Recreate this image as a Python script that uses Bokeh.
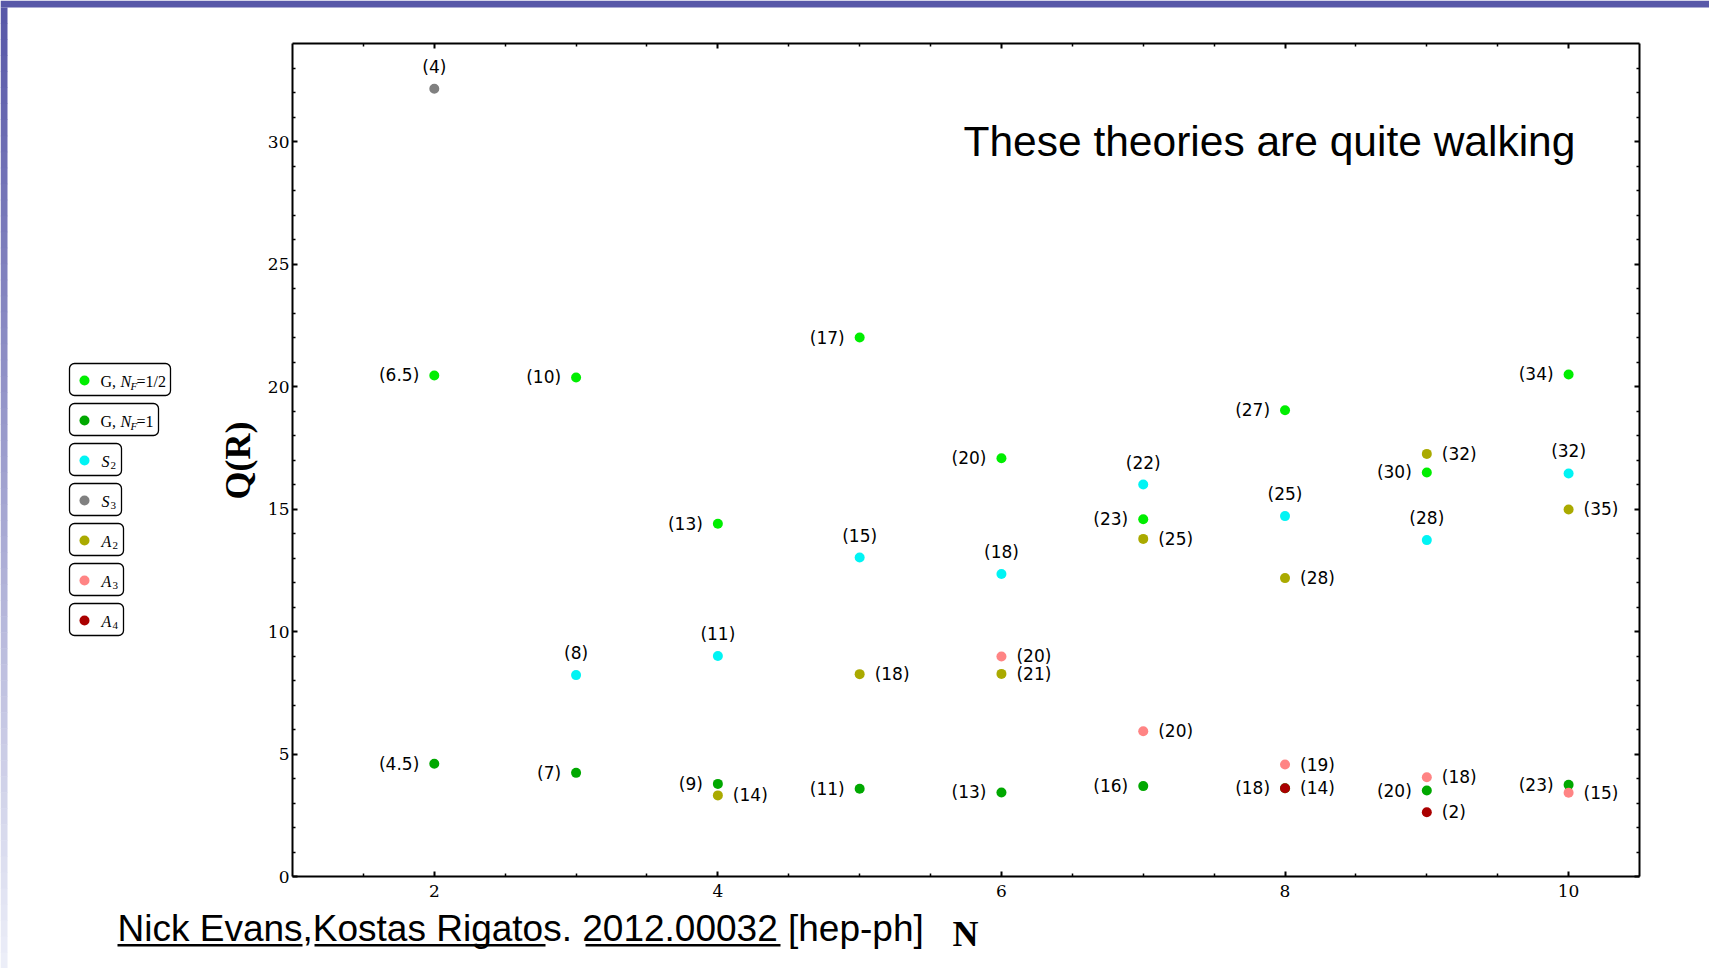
import math
from bokeh.plotting import figure
from bokeh.models import FixedTicker, LinearAxis, Range1d, Label, BoxAnnotation
from bokeh.core.properties import value
from bokeh.embed import file_html
from bokeh.resources import INLINE

# ---------------- data ----------------
g_half_N = [2, 3, 4, 5, 6, 7, 8, 9, 10]
g_half_Q = [20.45, 20.37, 14.40, 22.00, 17.07, 14.58, 19.03, 16.49, 20.49]
g_half_lab = ["(6.5)", "(10)", "(13)", "(17)", "(20)", "(23)", "(27)", "(30)", "(34)"]

g_one_N = [2, 3, 4, 5, 6, 7, 8, 9, 10]
g_one_Q = [4.60, 4.23, 3.78, 3.58, 3.43, 3.69, 3.60, 3.51, 3.74]
g_one_lab = ["(4.5)", "(7)", "(9)", "(11)", "(13)", "(16)", "(18)", "(20)", "(23)"]

s2_N = [3, 4, 5, 6, 7, 8, 9, 10]
s2_Q = [8.22, 9.00, 13.02, 12.35, 16.00, 14.71, 13.73, 16.45]
s2_lab = ["(8)", "(11)", "(15)", "(18)", "(22)", "(25)", "(28)", "(32)"]

s3_N = [2]
s3_Q = [32.15]
s3_lab = ["(4)"]

a2_N = [4, 5, 6, 7, 8, 9, 10]
a2_Q = [3.31, 8.26, 8.27, 13.78, 12.18, 17.25, 14.98]
a2_lab = ["(14)", "(18)", "(21)", "(25)", "(28)", "(32)", "(35)"]

a3_N = [6, 7, 8, 9, 10]
a3_Q = [8.98, 5.93, 4.57, 4.05, 3.42]
a3_lab = ["(20)", "(20)", "(19)", "(18)", "(15)"]

a4_N = [8, 9]
a4_Q = [3.60, 2.62]
a4_lab = ["(14)", "(2)"]

x_major = [2, 4, 6, 8, 10]
y_major = [0, 5, 10, 15, 20, 25, 30]

title_text = "These theories are quite walking"
cite_text = "Nick Evans,Kostas Rigatos. 2012.00032 [hep-ph]"

# ---------------- layout ----------------
W, H = 1709, 968
FL, FR, FT, FB = 292, 1639, 43, 876     # plot box in page pixels
XR = (1.0, 10.5)
YR = (0.0, 34.0)


def dx(px):
    return XR[0] + (px - FL) * (XR[1] - XR[0]) / (FR - FL)


def dy(py):
    return YR[0] + (FB - py) * (YR[1] - YR[0]) / (FB - FT)


# the frame covers the whole page; axes are pinned to the plot box
p = figure(width=W, height=H,
           x_range=Range1d(dx(0), dx(W)), y_range=Range1d(dy(H), dy(0)),
           output_backend="svg", toolbar_location=None,
           x_axis_location=None, y_axis_location=None,
           min_border=0)
p.title.visible = False
p.grid.visible = False
p.outline_line_color = None
p.background_fill_color = "white"
p.border_fill_color = "white"

x_minor = [k * 0.5 for k in range(3, 21) if (k * 0.5) not in x_major]
y_minor = [k for k in range(1, 34) if k % 5 != 0]


def make_axis(loc, bounds, ticker, labels=True):
    ax = LinearAxis(fixed_location=loc, bounds=bounds, ticker=ticker)
    ax.axis_line_width = 2
    ax.axis_line_color = "black"
    ax.major_tick_in = 5
    ax.major_tick_out = 0
    ax.minor_tick_in = 3
    ax.minor_tick_out = 0
    ax.major_tick_line_width = 2
    ax.minor_tick_line_width = 1.5
    ax.major_label_text_font = "DejaVu Serif"
    ax.major_label_text_font_size = "17px"
    ax.major_label_text_color = "black" if labels else None
    return ax


bottom_ax = make_axis(YR[0], XR, FixedTicker(ticks=x_major, minor_ticks=x_minor))
bottom_ax.major_label_standoff = 8
p.add_layout(bottom_ax, "below")
left_ax = make_axis(XR[0], YR, FixedTicker(ticks=y_major, minor_ticks=y_minor))
left_ax.major_label_standoff = 3
p.add_layout(left_ax, "left")
p.add_layout(make_axis(YR[1], XR, FixedTicker(ticks=x_major, minor_ticks=x_minor),
                       labels=False), "above")
p.add_layout(make_axis(XR[1], YR, FixedTicker(ticks=y_major, minor_ticks=y_minor),
                       labels=False), "right")

# ---------------- series ----------------
series = [
    (g_half_N, g_half_Q, g_half_lab, "#00ee00", "left"),
    (g_one_N, g_one_Q, g_one_lab, "#00a800", "left"),
    (s2_N, s2_Q, s2_lab, "#00f4f4", "above"),
    (s3_N, s3_Q, s3_lab, "#808080", "above"),
    (a2_N, a2_Q, a2_lab, "#aaaa00", "right"),
    (a3_N, a3_Q, a3_lab, "#ff8484", "right"),
    (a4_N, a4_Q, a4_lab, "#aa0000", "right"),
]

for xs, ys, labs, col, side in series:
    p.scatter(xs, ys, size=10, fill_color=col, line_color=None)

for xs, ys, labs, col, side in series:
    if side == "left":
        kw = dict(x_offset=-15, y_offset=0, text_align="right")
    elif side == "right":
        kw = dict(x_offset=15, y_offset=0, text_align="left")
    else:
        kw = dict(x_offset=0, y_offset=-22, text_align="center")
    p.text(xs, ys, text=labs, text_baseline="middle",
           text_font=value("DejaVu Sans"), text_font_size=value("17px"),
           text_color="black", **kw)

# ---------------- decorations ----------------
def box(l, r, t, b, fill, line=None, radius=0, lw=1.0):
    ba = BoxAnnotation(left=dx(l), right=dx(r), top=dy(t), bottom=dy(b),
                       fill_color=fill, fill_alpha=1.0,
                       line_color=line, line_width=lw, line_alpha=1.0,
                       border_radius=int(radius))
    p.add_layout(ba)
    return ba

# top bar and left gradient strip
box(0, W, 0, 7, "#5858a8")
n_bands = 60
c0 = (88, 88, 168)
c1 = (236, 238, 248)
for i in range(n_bands):
    t = i / (n_bands - 1)
    c = tuple(int(round(c0[k] + (c1[k] - c0[k]) * t)) for k in range(3))
    y0 = 7 + (H - 7) * i / n_bands
    y1 = 7 + (H - 7) * (i + 1) / n_bands + 0.5
    box(0, 7, y0, y1, "#%02x%02x%02x" % c)


def lab(px, py, text, font="Liberation Serif", size="16px", style="normal",
        align="left", color="black", angle=0.0):
    # py is the vertical middle of the text, in page pixels
    p.add_layout(Label(x=dx(px), y=dy(py), text=text, text_font=font,
                       text_font_size=size, text_font_style=style,
                       text_align=align, text_baseline="middle",
                       text_color=color, angle=angle))

# legend
legend_cols = [c for _, _, _, c, _ in series]
legend_right = [170, 158, 121, 121, 123, 123, 123]
for i, col in enumerate(legend_cols):
    top = 363 + 40 * i
    box(69, legend_right[i], top, top + 32, "white", line="black", radius=5, lw=1.3)
    box(79, 89, top + 12, top + 22, col, radius=5)
    mid = top + 18
    if i < 2:
        lab(100, mid, "G,")
        lab(120, mid, "N", style="italic")
        lab(130, mid + 4, "F", size="11px", style="italic")
        lab(136, mid, "=1/2" if i == 0 else "=1")
    else:
        letter = "S" if i < 4 else "A"
        sub = ["2", "3", "2", "3", "4"][i - 2]
        lab(101, mid, letter, style="italic")
        lab(110 if letter == "S" else 112, mid + 4, sub, size="11px")

# title, axis labels, citation
lab(963, 141, title_text, font="Liberation Sans", size="42.5px")
lab(237, 460, "Q(R)", size="36px", style="bold", align="center",
    angle=math.pi / 2)
lab(965, 933, "N", size="36px", style="bold", align="center")
lab(117, 928, cite_text, font="Liberation Sans", size="37px")
box(117, 302, 943.5, 946, "black")
box(314, 545, 943.5, 946, "black")
box(585, 780, 943.5, 946, "black")

open("out.html", "w").write(file_html(p, INLINE))
